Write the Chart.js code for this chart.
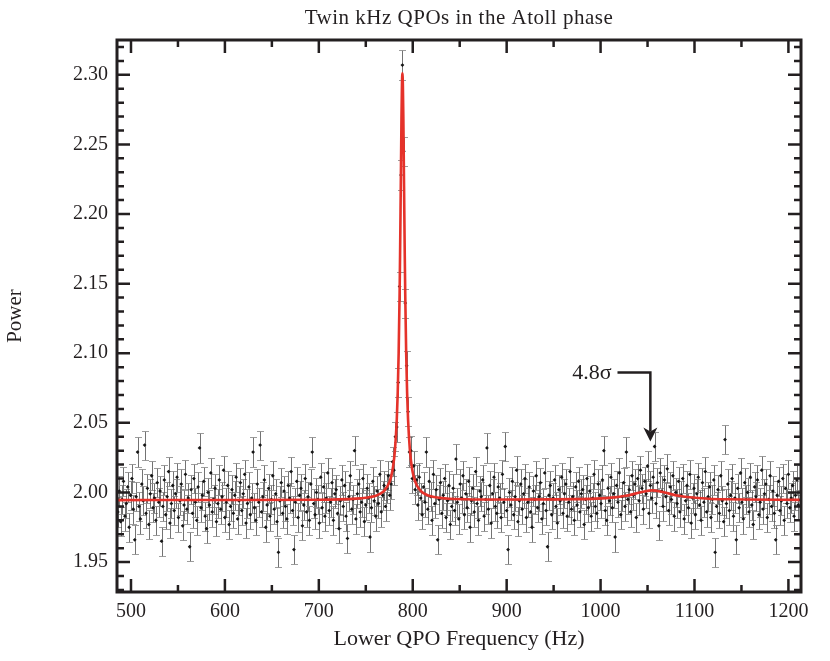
<!DOCTYPE html>
<html><head><meta charset="utf-8">
<script src="https://cdn.jsdelivr.net/npm/chart.js@4.4.1/dist/chart.umd.min.js"></script>
<style>html,body{margin:0;padding:0;background:#fff;}canvas{display:block}</style>
</head><body>
<canvas id="c" width="830" height="661"></canvas>
<script>
// ---- data ----
const freqStart = 486;      // first frequency bin (Hz)
const freqStep = 1.5;       // bin width (Hz)
const power = [
1.986,2.001,1.979,1.995,2.008,1.983,1.992,2.004,1.975,1.998,
2.010,1.988,1.966,1.997,2.029,1.990,1.981,2.006,1.994,2.034,
1.985,2.003,1.977,1.999,2.012,1.989,1.996,1.980,2.007,1.993,
2.001,1.965,1.990,2.009,1.984,1.997,2.015,1.978,1.992,2.005,
1.987,1.999,2.011,1.982,1.994,2.006,1.976,1.991,2.013,1.988,
1.996,1.961,2.002,1.985,2.010,1.993,1.980,2.004,2.032,1.989,
1.998,2.008,1.983,1.974,2.000,1.991,2.014,1.986,1.995,2.003,
1.979,1.992,2.009,1.988,1.997,2.016,1.982,1.993,2.005,1.977,
1.990,2.002,1.985,1.998,2.011,1.981,1.994,2.007,1.987,1.999,
2.013,1.978,1.992,2.004,1.984,1.996,2.029,1.989,1.980,2.006,
1.993,2.034,1.986,1.997,2.009,1.975,1.991,2.003,1.983,1.995,
2.012,1.988,1.999,1.979,1.957,1.994,2.007,1.985,2.001,1.990,
1.981,2.005,1.996,2.015,1.987,1.959,1.993,2.008,1.982,1.998,
2.003,1.976,1.991,2.010,1.986,1.997,1.980,2.006,2.029,1.992,
1.984,2.000,1.995,1.978,2.011,1.989,2.004,1.983,1.996,2.014,
1.987,1.993,2.007,1.980,1.999,2.002,1.985,1.974,1.994,2.009,
1.990,2.005,1.983,1.967,1.997,2.012,1.988,1.995,2.030,1.981,
1.999,2.006,1.986,1.993,2.010,1.979,1.991,2.003,1.996,1.968,
1.989,2.008,1.994,1.983,2.001,1.992,2.013,1.986,1.998,2.005,
1.990,2.003,2.012,1.998,2.006,2.022,2.016,2.040,2.047,2.079,
2.148,2.228,2.307,2.245,2.136,2.091,2.058,2.029,2.030,2.010,
2.019,2.002,2.009,1.991,2.011,1.996,1.984,2.004,1.993,2.029,
1.988,2.008,1.997,1.980,2.013,1.992,2.002,1.966,1.995,2.007,
1.985,1.998,2.010,1.982,1.994,2.005,1.977,1.990,2.003,1.987,
2.024,1.993,1.981,2.006,1.996,2.012,1.984,1.999,1.989,2.008,
1.975,1.994,2.003,1.986,2.015,1.992,1.980,2.001,1.997,2.009,
1.983,1.995,2.032,1.988,2.005,1.978,1.999,2.011,1.990,1.985,
2.004,1.996,1.982,2.013,1.993,2.033,1.987,1.959,2.000,1.991,
2.008,1.984,1.997,2.016,1.979,1.994,2.006,1.988,1.999,2.010,
1.982,1.993,2.004,1.986,1.975,2.001,1.995,2.012,1.989,1.997,
2.007,1.981,1.992,2.014,1.987,1.961,1.998,2.005,1.984,1.996,
2.009,1.990,1.978,2.002,1.994,2.011,1.985,1.999,2.006,1.983,
1.993,2.015,1.988,1.997,1.980,2.004,1.991,2.008,1.986,1.999,
2.002,1.977,1.995,2.010,1.989,2.001,1.983,1.996,2.013,1.990,
1.985,2.006,1.998,1.992,2.009,2.030,1.987,1.980,2.003,1.994,
2.011,1.989,1.999,1.968,2.005,1.993,2.014,1.984,1.997,2.007,
1.990,2.029,1.995,2.002,1.986,2.012,1.998,2.006,1.982,2.010,
1.994,2.016,2.003,1.988,2.008,1.999,2.019,1.985,2.005,1.996,
2.011,2.033,1.992,2.007,1.976,2.014,2.001,1.990,2.009,1.997,
2.017,1.987,2.004,1.995,2.012,1.983,2.000,1.992,2.008,1.986,
1.998,2.010,1.981,1.994,2.005,1.989,2.013,1.978,1.996,2.003,
1.984,1.999,2.011,1.991,1.980,2.007,1.993,2.015,1.986,1.997,
2.004,1.982,1.995,2.009,1.957,1.990,2.002,1.985,2.012,1.994,
1.979,2.038,1.992,2.006,1.987,1.998,2.010,1.983,1.996,1.966,
2.003,1.989,2.014,1.993,1.981,2.007,1.995,2.000,1.986,2.011,
1.991,1.977,2.004,1.997,2.009,1.984,1.993,2.016,1.988,1.999,
2.006,1.982,1.995,2.012,1.990,2.001,1.985,1.966,1.998,2.008,
1.987,1.994,2.010,1.980,2.003,1.992,2.013,1.989,1.996,2.005,
1.983,1.998,2.009,1.991
];
const powerError = 0.0105;

// fitted model curve
const fitFreq = [485,600,700,740,750,760,765,770,775,777,779,781,783,784,785,786,786.5,787,787.5,788,788.5,789,
  789.5,790,790.5,791,791.5,792,793,794,795,797,799,801,804,809,813,819,829,839,900,950,975,995,1015,1025,1035,1045,1055,
  1065,1075,1085,1095,1115,1135,1155,1213];
const fitPower = [1.9945,1.9946,1.9948,1.9956,1.9962,1.9975,1.9989,2.0015,2.0071,2.0114,2.0183,2.0301,2.0525,2.0717,2.1001,2.1426,2.1703,2.2022,2.2363,2.2684,2.2922,2.3010,
  2.2922,2.2684,2.2363,2.2022,2.1703,2.1426,2.1001,2.0717,2.0525,2.0301,2.0183,2.0114,2.0055,2.0008,1.9989,1.9973,1.9961,1.9955,1.9949,1.9950,1.9952,1.9956,1.9965,1.9974,1.9988,2.0005,2.0015,
  2.0005,1.9988,1.9974,1.9965,1.9955,1.9951,1.9949,1.9947];

const xTickLabels = [500,600,700,800,900,1000,1100,1200];
const xMinorTicks = [550,650,750,850,950,1050,1150];
const yTickLabels = [1.95,2.00,2.05,2.10,2.15,2.20,2.25,2.30];
const yMinorTicks = [1.93,1.94,1.96,1.97,1.98,1.99,2.01,2.02,2.03,2.04,2.06,2.07,2.08,2.09,2.11,2.12,2.13,2.14,
  2.16,2.17,2.18,2.19,2.21,2.22,2.23,2.24,2.26,2.27,2.28,2.29,2.31,2.32];

const titleText = 'Twin kHz QPOs in the Atoll phase';
const xTitle = 'Lower QPO Frequency (Hz)';
const yTitle = 'Power';
const arrowLabel = '4.8σ';
const arrowFreq = 1053, arrowStartFreq = 1018, arrowElbow = 2.0862, arrowTip = 2.0366;

// ---- chart ----
const INK = '#231f20';
const SERIF = '"Liberation Serif", "DejaVu Serif", serif';

const points = power.map((p, i) => ({x: freqStart + i * freqStep, y: p}));
const fitPoints = fitFreq.map((f, i) => ({x: f, y: fitPower[i]}));

const errorBars = {
  id: 'errorBars',
  beforeDatasetsDraw(chart) {
    const {ctx, chartArea: a, scales: {x, y}} = chart;
    ctx.save();
    ctx.beginPath(); ctx.rect(a.left, a.top, a.right - a.left, a.bottom - a.top); ctx.clip();
    ctx.lineWidth = 1;
    points.forEach(pt => {
      const px = Math.round(x.getPixelForValue(pt.x)) + 0.5;
      const t = Math.round(y.getPixelForValue(pt.y + powerError)) + 0.5;
      const b = Math.round(y.getPixelForValue(pt.y - powerError)) + 0.5;
      ctx.strokeStyle = 'rgba(80,80,80,0.8)';
      ctx.beginPath(); ctx.moveTo(px, t); ctx.lineTo(px, b); ctx.stroke();
      ctx.strokeStyle = 'rgba(140,140,140,0.85)';
      ctx.beginPath();
      ctx.moveTo(px - 3.5, t); ctx.lineTo(px + 3.5, t);
      ctx.moveTo(px - 3.5, b); ctx.lineTo(px + 3.5, b);
      ctx.stroke();
    });
    ctx.restore();
  }
};

const frame = {
  id: 'frame',
  afterDraw(chart) {
    const {ctx, chartArea: a, scales: {x, y}} = chart;
    ctx.save();
    ctx.strokeStyle = INK;
    ctx.lineWidth = 2.5;
    const tx = (v, len) => {
      const px = x.getPixelForValue(v);
      ctx.beginPath();
      ctx.moveTo(px, a.bottom); ctx.lineTo(px, a.bottom - len);
      ctx.moveTo(px, a.top); ctx.lineTo(px, a.top + len);
      ctx.stroke();
    };
    const ty = (v, len) => {
      const py = y.getPixelForValue(v);
      ctx.beginPath();
      ctx.moveTo(a.left, py); ctx.lineTo(a.left + len, py);
      ctx.moveTo(a.right, py); ctx.lineTo(a.right - len, py);
      ctx.stroke();
    };
    xTickLabels.forEach(v => tx(v, 13));
    xMinorTicks.forEach(v => tx(v, 7));
    yTickLabels.forEach(v => ty(v, 13));
    yMinorTicks.forEach(v => ty(v, 7));
    ctx.lineWidth = 3;
    ctx.strokeRect(a.left, a.top, a.right - a.left, a.bottom - a.top);

    // title
    ctx.fillStyle = INK;
    ctx.font = '21px ' + SERIF;
    ctx.letterSpacing = '0.5px';
    ctx.textAlign = 'center'; ctx.textBaseline = 'middle';
    ctx.fillText(titleText, (a.left + a.right) / 2, 18);
    ctx.letterSpacing = '0px';

    // arrow annotation
    const ax = x.getPixelForValue(arrowFreq);
    const sx = x.getPixelForValue(arrowStartFreq);
    const ey = y.getPixelForValue(arrowElbow);
    const tipY = y.getPixelForValue(arrowTip);
    ctx.lineWidth = 2.5;
    ctx.beginPath();
    ctx.moveTo(sx, ey); ctx.lineTo(ax, ey); ctx.lineTo(ax, tipY - 10);
    ctx.stroke();
    ctx.beginPath();
    ctx.moveTo(ax, tipY);
    ctx.lineTo(ax - 7, tipY - 14);
    ctx.lineTo(ax, tipY - 10);
    ctx.lineTo(ax + 7, tipY - 14);
    ctx.closePath();
    ctx.fill();
    ctx.font = '22px ' + SERIF;
    ctx.textAlign = 'right';
    ctx.fillText(arrowLabel, sx - 6, ey + 1);
    ctx.restore();
  }
};

new Chart(document.getElementById('c'), {
  type: 'scatter',
  data: {
    datasets: [
      {
        type: 'line', data: fitPoints, order: 0,
        borderColor: '#e5322a', borderWidth: 2.6, pointRadius: 0,
        cubicInterpolationMode: 'monotone', fill: false
      },
      {
        type: 'scatter', data: points, order: 1,
        pointStyle: 'rectRot', pointRadius: 1.9,
        backgroundColor: '#151515', borderColor: '#151515', borderWidth: 0
      }
    ]
  },
  options: {
    responsive: false, animation: false, events: [],
    layout: {padding: {left: 0, right: 29, top: 40, bottom: 0}},
    plugins: {legend: {display: false}, tooltip: {enabled: false}, title: {display: false}},
    scales: {
      x: {
        type: 'linear', min: 485.1, max: 1213.4,
        grid: {display: false, drawTicks: false}, border: {display: false},
        afterBuildTicks: s => { s.ticks = xTickLabels.map(v => ({value: v})); },
        afterFit: s => { s.height = 69; },
        ticks: {padding: 8, color: INK, font: {family: SERIF, size: 20}, callback: v => String(v), maxRotation: 0, autoSkip: false},
        title: {display: true, text: xTitle, color: INK, font: {family: SERIF, size: 22}, padding: {top: 0, bottom: 9}}
      },
      y: {
        type: 'linear', min: 1.9285, max: 2.325,
        grid: {display: false, drawTicks: false}, border: {display: false},
        afterBuildTicks: s => { s.ticks = yTickLabels.map(v => ({value: v})); },
        afterFit: s => { s.width = 117; },
        ticks: {padding: 9, color: INK, font: {family: SERIF, size: 20}, callback: v => Number(v).toFixed(2), autoSkip: false},
        title: {display: true, text: yTitle, color: INK, font: {family: SERIF, size: 21}, padding: {top: 3, bottom: 0}}
      }
    }
  },
  plugins: [errorBars, frame]
});
</script>
</body></html>
